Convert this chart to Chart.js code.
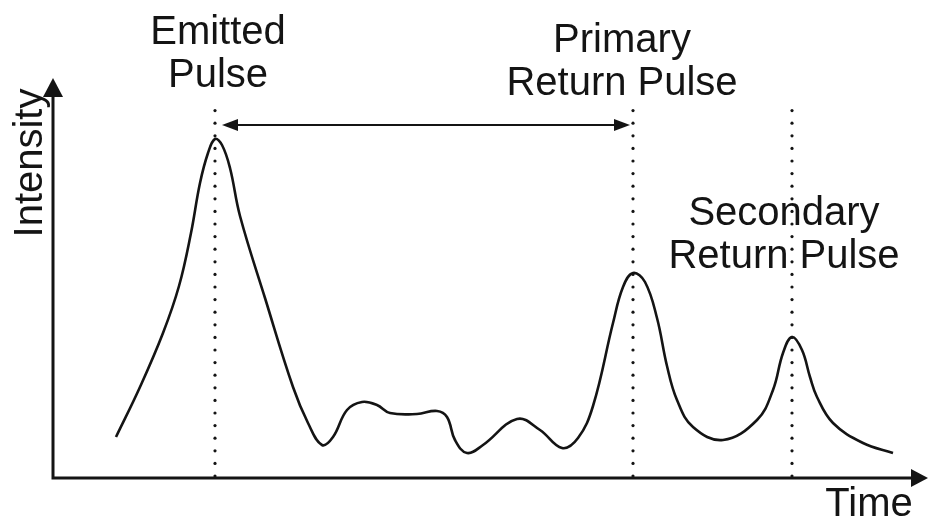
<!DOCTYPE html>
<html>
<head>
<meta charset="utf-8">
<script src="https://cdn.jsdelivr.net/npm/chart.js@4"></script>
<style>
  html, body { margin: 0; padding: 0; background: #fff; }
  #wrap { width: 928px; height: 517px; }
</style>
</head>
<body>
<div id="wrap"><canvas id="c" width="928" height="517"></canvas></div>
<script>
// ---- data (time, intensity) ----
const timeValues = [63, 87, 110, 126, 138, 147, 155, 162, 169, 177, 187, 212, 240, 255, 269, 280, 294, 309, 324, 337, 364, 384, 394, 402, 414, 430, 464, 487, 509, 525, 540, 560, 570, 580, 592, 604, 614, 624, 640, 670, 704, 720, 730, 739, 749, 757, 764, 780, 810, 840];
const intensityValues = [41, 91, 145, 192, 245, 295, 325, 339, 333, 310, 262, 180, 91, 55, 33, 41, 68, 76, 73, 65, 64, 67, 61, 38, 25, 33, 59, 48, 30, 40, 72, 155, 191, 205, 196, 160, 112, 78, 51, 38, 58, 88, 125, 141, 128, 101, 81, 55, 35, 25];

// pulse marker times (dotted lines) and their top intensities
const pulseTimes = [162, 580, 739];
const pulseTops = [368, 380, 373];
const pulseLabels = [["Emitted", "Pulse"], ["Primary", "Return Pulse"], ["Secondary", "Return Pulse"]];
const labelTimes = [165, 569, 731];
const labelBaselines = [434, 426, 253]; // intensity units of first line baseline
// interval arrow between emitted and primary pulse
const arrowFrom = 169, arrowTo = 577, arrowLevel = 353;
const axisTitles = { x: "Time", y: "Intensity" };

const X_MAX = 875, Y_MAX = 400;

const points = timeValues.map((t, i) => ({ x: t, y: intensityValues[i] }));

const FONT = '40px "Liberation Sans", Arial, sans-serif';
const INK = '#141414';

const decor = {
  id: 'decor',
  afterDatasetsDraw(chart) {
    const ctx = chart.ctx;
    const xs = chart.scales.x, ys = chart.scales.y;
    const x0 = xs.getPixelForValue(0), y0 = ys.getPixelForValue(0);
    const xEnd = xs.getPixelForValue(X_MAX), yEnd = ys.getPixelForValue(Y_MAX);
    ctx.save();
    ctx.fillStyle = INK; ctx.strokeStyle = INK;

    // dotted lines
    pulseTimes.forEach((t, i) => {
      const px = xs.getPixelForValue(t);
      const top = ys.getPixelForValue(pulseTops[i]);
      for (let y = y0 - 2; y >= top; y -= 12.6) {
        ctx.beginPath(); ctx.arc(px, y, 1.6, 0, Math.PI * 2); ctx.fill();
      }
    });

    // axes
    ctx.lineWidth = 3;
    ctx.beginPath();
    ctx.moveTo(x0, y0 + 1.5); ctx.lineTo(x0, yEnd + 16);
    ctx.moveTo(x0 - 1.5, y0); ctx.lineTo(xEnd - 14, y0);
    ctx.stroke();
    // arrowheads
    ctx.beginPath();
    ctx.moveTo(x0, yEnd); ctx.lineTo(x0 - 10, yEnd + 19); ctx.lineTo(x0 + 10, yEnd + 19); ctx.closePath(); ctx.fill();
    ctx.beginPath();
    ctx.moveTo(xEnd, y0); ctx.lineTo(xEnd - 17, y0 - 9); ctx.lineTo(xEnd - 17, y0 + 9); ctx.closePath(); ctx.fill();

    // double arrow
    const ax1 = xs.getPixelForValue(arrowFrom), ax2 = xs.getPixelForValue(arrowTo), ay = ys.getPixelForValue(arrowLevel);
    ctx.lineWidth = 2;
    ctx.beginPath(); ctx.moveTo(ax1 + 10, ay); ctx.lineTo(ax2 - 10, ay); ctx.stroke();
    ctx.beginPath(); ctx.moveTo(ax1, ay); ctx.lineTo(ax1 + 16, ay - 6); ctx.lineTo(ax1 + 16, ay + 6); ctx.closePath(); ctx.fill();
    ctx.beginPath(); ctx.moveTo(ax2, ay); ctx.lineTo(ax2 - 16, ay - 6); ctx.lineTo(ax2 - 16, ay + 6); ctx.closePath(); ctx.fill();

    // labels
    ctx.font = FONT;
    ctx.textAlign = 'center'; ctx.textBaseline = 'alphabetic';
    pulseLabels.forEach((lines, i) => {
      const lx = xs.getPixelForValue(labelTimes[i]);
      const ly = ys.getPixelForValue(labelBaselines[i]);
      lines.forEach((s, j) => ctx.fillText(s, lx, ly + j * 43));
    });

    // axis titles
    ctx.fillText(axisTitles.x, xs.getPixelForValue(816), ys.getPixelForValue(-38));
    ctx.save();
    ctx.translate(x0 - 11, ys.getPixelForValue(315));
    ctx.rotate(-Math.PI / 2);
    ctx.fillText(axisTitles.y, 0, 0);
    ctx.restore();

    ctx.restore();
  }
};

new Chart(document.getElementById('c'), {
  type: 'line',
  data: {
    datasets: [{
      data: points,
      borderColor: INK,
      borderWidth: 2.6,
      pointRadius: 0,
      fill: false,
      tension: 0.4
    }]
  },
  options: {
    responsive: false,
    animation: false,
    layout: { padding: { left: 53, right: 0, top: 78, bottom: 39 } },
    plugins: { legend: { display: false }, tooltip: { enabled: false } },
    scales: {
      x: { type: 'linear', min: 0, max: X_MAX, display: false },
      y: { type: 'linear', min: 0, max: Y_MAX, display: false }
    }
  },
  plugins: [decor]
});
</script>
</body>
</html>
